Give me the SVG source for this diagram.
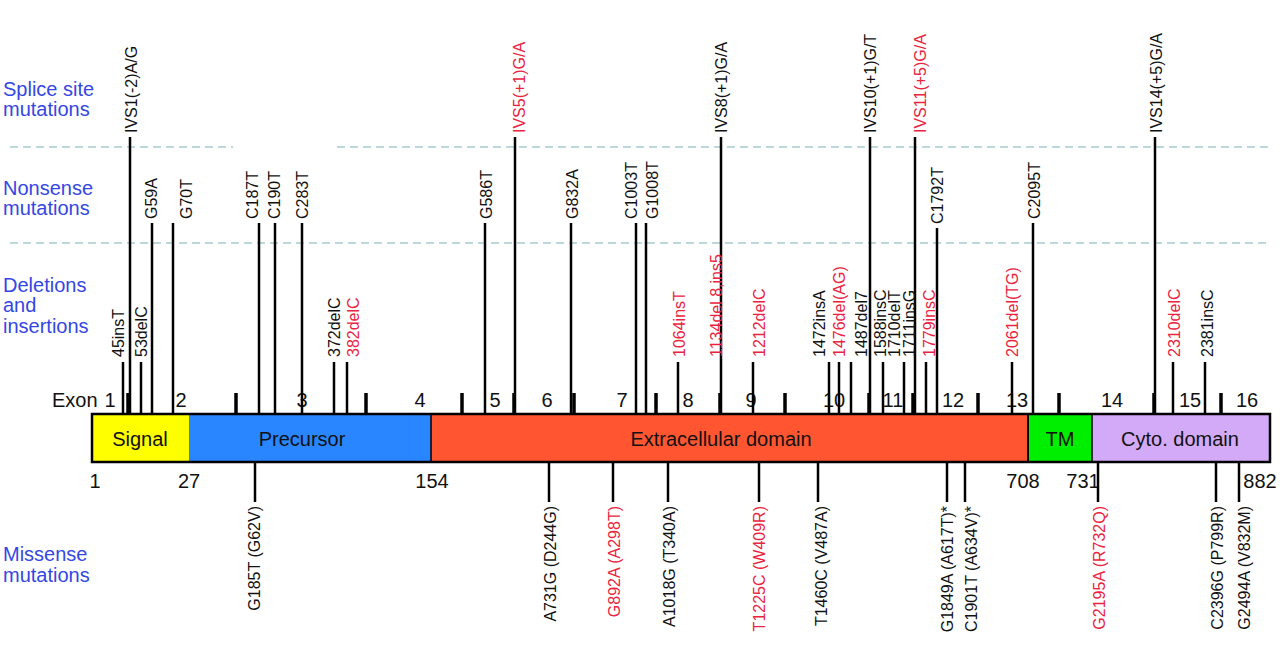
<svg xmlns="http://www.w3.org/2000/svg" width="1280" height="659" viewBox="0 0 1280 659">
<style>
text { font-family: "Liberation Sans", Arial, sans-serif; }
.lab { font-size: 16px; fill: #111; }
.red { fill: #ea2340; }
.bot { text-anchor: end; }
.cat { font-size: 20px; fill: #3447e4; }
.num { font-size: 20px; fill: #111; }
.mid { text-anchor: middle; }
.stem { stroke: #000; stroke-width: 2.5; }
.tick { stroke: #000; stroke-width: 3.5; }
.dash { stroke: #a6cccc; stroke-width: 1.5; stroke-dasharray: 8 5; fill: none; }
</style>
<rect width="1280" height="659" fill="#fff"/>

<g id="categories">
  <text class="cat" x="3" y="96">Splice site</text>
  <text class="cat" x="3" y="116">mutations</text>
  <text class="cat" x="3" y="195">Nonsense</text>
  <text class="cat" x="3" y="215">mutations</text>
  <text class="cat" x="3" y="292">Deletions</text>
  <text class="cat" x="3" y="312">and</text>
  <text class="cat" x="3" y="333">insertions</text>
  <text class="cat" x="3" y="561">Missense</text>
  <text class="cat" x="3" y="582">mutations</text>
</g>

<g id="separators">
  <line class="dash" x1="10" y1="147" x2="233" y2="147"/>
  <line class="dash" x1="337" y1="147" x2="1270" y2="147"/>
  <line class="dash" x1="10" y1="243" x2="1270" y2="243"/>
</g>

<g id="protein-bar">
  <rect x="92" y="414" width="97" height="48" fill="#ffff00"/>
  <rect x="189" y="414" width="242" height="48" fill="#2a86ff"/>
  <rect x="431" y="414" width="597" height="48" fill="#ff5631"/>
  <rect x="1028" y="414" width="64" height="48" fill="#00ee00"/>
  <rect x="1092" y="414" width="178" height="48" fill="#d3aaf8"/>
  <line x1="431" y1="414" x2="431" y2="462" stroke="#000" stroke-width="1.5"/>
  <line x1="1028" y1="414" x2="1028" y2="462" stroke="#000" stroke-width="2"/>
  <line x1="1092" y1="414" x2="1092" y2="462" stroke="#000" stroke-width="1.5"/>
  <rect x="92" y="414" width="1178" height="48" fill="none" stroke="#000" stroke-width="2.5"/>
  <text class="num mid" x="140" y="446">Signal</text>
  <text class="num mid" x="302" y="446">Precursor</text>
  <text class="num mid" x="721" y="446">Extracellular domain</text>
  <text class="num mid" x="1060" y="446">TM</text>
  <text class="num mid" x="1180" y="446">Cyto. domain</text>
</g>

<g id="positions">
  <text class="num mid" x="95" y="488">1</text>
  <text class="num mid" x="189" y="488">27</text>
  <text class="num mid" x="432" y="488">154</text>
  <text class="num mid" x="1023" y="488">708</text>
  <text class="num mid" x="1083" y="488">731</text>
  <text class="num mid" x="1260" y="488">882</text>
</g>

<g id="exons">
  <text class="num" x="52" y="407">Exon</text>
  <text class="num mid" x="110" y="407">1</text>
  <text class="num mid" x="181" y="407">2</text>
  <text class="num mid" x="302" y="407">3</text>
  <text class="num mid" x="420" y="407">4</text>
  <text class="num mid" x="495" y="407">5</text>
  <text class="num mid" x="547" y="407">6</text>
  <text class="num mid" x="622" y="407">7</text>
  <text class="num mid" x="688" y="407">8</text>
  <text class="num mid" x="751" y="407">9</text>
  <text class="num mid" x="834" y="407">10</text>
  <text class="num mid" x="893" y="407">11</text>
  <text class="num mid" x="953" y="407">12</text>
  <text class="num mid" x="1017" y="407">13</text>
  <text class="num mid" x="1112" y="407">14</text>
  <text class="num mid" x="1190" y="407">15</text>
  <text class="num mid" x="1247" y="407">16</text>
  <g id="exon-ticks">
    <line class="tick" x1="128" y1="393" x2="128" y2="414"/>
    <line class="tick" x1="236" y1="393" x2="236" y2="414"/>
    <line class="tick" x1="366" y1="393" x2="366" y2="414"/>
    <line class="tick" x1="462" y1="393" x2="462" y2="414"/>
    <line class="tick" x1="514" y1="393" x2="514" y2="414"/>
    <line class="tick" x1="574" y1="393" x2="574" y2="414"/>
    <line class="tick" x1="656" y1="393" x2="656" y2="414"/>
    <line class="tick" x1="720" y1="393" x2="720" y2="414"/>
    <line class="tick" x1="785" y1="393" x2="785" y2="414"/>
    <line class="tick" x1="869" y1="393" x2="869" y2="414"/>
    <line class="tick" x1="913" y1="393" x2="913" y2="414"/>
    <line class="tick" x1="978" y1="393" x2="978" y2="414"/>
    <line class="tick" x1="1059" y1="393" x2="1059" y2="414"/>
    <line class="tick" x1="1154" y1="393" x2="1154" y2="414"/>
    <line class="tick" x1="1221" y1="393" x2="1221" y2="414"/>
  </g>
</g>

<g id="connectors">
  <!-- splice site -->
  <line class="stem" x1="130" y1="137" x2="130" y2="414"/>
  <line class="stem" x1="515" y1="137" x2="515" y2="414"/>
  <line class="stem" x1="721" y1="137" x2="721" y2="414"/>
  <line class="stem" x1="870" y1="137" x2="870" y2="414"/>
  <line class="stem" x1="915" y1="137" x2="915" y2="414"/>
  <line class="stem" x1="1155" y1="137" x2="1155" y2="414"/>
  <!-- nonsense -->
  <line class="stem" x1="152" y1="223" x2="152" y2="414"/>
  <line class="stem" x1="173" y1="223" x2="173" y2="414"/>
  <line class="stem" x1="259" y1="223" x2="259" y2="414"/>
  <line class="stem" x1="275" y1="223" x2="275" y2="414"/>
  <line class="stem" x1="302" y1="223" x2="302" y2="414"/>
  <line class="stem" x1="485" y1="223" x2="485" y2="414"/>
  <line class="stem" x1="571" y1="223" x2="571" y2="414"/>
  <line class="stem" x1="636" y1="223" x2="636" y2="414"/>
  <line class="stem" x1="646" y1="223" x2="646" y2="414"/>
  <line class="stem" x1="937" y1="228" x2="937" y2="414"/>
  <line class="stem" x1="1033" y1="223" x2="1033" y2="414"/>
  <!-- deletions / insertions -->
  <line class="stem" x1="123" y1="362" x2="123" y2="414"/>
  <line class="stem" x1="141" y1="362" x2="141" y2="414"/>
  <line class="stem" x1="334" y1="362" x2="334" y2="414"/>
  <line class="stem" x1="347" y1="362" x2="347" y2="414"/>
  <line class="stem" x1="678" y1="362" x2="678" y2="414"/>
  <line class="stem" x1="753" y1="362" x2="753" y2="414"/>
  <line class="stem" x1="829" y1="362" x2="829" y2="414"/>
  <line class="stem" x1="839" y1="362" x2="839" y2="414"/>
  <line class="stem" x1="851" y1="362" x2="851" y2="414"/>
  <line class="stem" x1="883" y1="362" x2="883" y2="414"/>
  <line class="stem" x1="904" y1="362" x2="904" y2="414"/>
  <line class="stem" x1="926" y1="362" x2="926" y2="414"/>
  <line class="stem" x1="1012" y1="362" x2="1012" y2="414"/>
  <line class="stem" x1="1173" y1="362" x2="1173" y2="414"/>
  <line class="stem" x1="1205" y1="362" x2="1205" y2="414"/>
  <!-- missense -->
  <line class="stem" x1="255" y1="462" x2="255" y2="502"/>
  <line class="stem" x1="549" y1="462" x2="549" y2="502"/>
  <line class="stem" x1="613" y1="462" x2="613" y2="502"/>
  <line class="stem" x1="668" y1="462" x2="668" y2="502"/>
  <line class="stem" x1="759" y1="462" x2="759" y2="502"/>
  <line class="stem" x1="818" y1="462" x2="818" y2="502"/>
  <line class="stem" x1="947" y1="462" x2="947" y2="502"/>
  <line class="stem" x1="965" y1="462" x2="965" y2="502"/>
  <line class="stem" x1="1098" y1="462" x2="1098" y2="502"/>
  <line class="stem" x1="1216" y1="462" x2="1216" y2="502"/>
  <line class="stem" x1="1239" y1="462" x2="1239" y2="502"/>
</g>

<g id="splice-labels">
  <text class="lab" transform="translate(137,133) rotate(-90)">IVS1(-2)A/G</text>
  <text class="lab red" transform="translate(525,133) rotate(-90)">IVS5(+1)G/A</text>
  <text class="lab" transform="translate(727,133) rotate(-90)">IVS8(+1)G/A</text>
  <text class="lab" transform="translate(876,133) rotate(-90)">IVS10(+1)G/T</text>
  <text class="lab red" transform="translate(926,133) rotate(-90)">IVS11(+5)G/A</text>
  <text class="lab" transform="translate(1162,133) rotate(-90)">IVS14(+5)G/A</text>
</g>

<g id="nonsense-labels">
  <text class="lab" transform="translate(157,219) rotate(-90)">G59A</text>
  <text class="lab" transform="translate(192,219) rotate(-90)">G70T</text>
  <text class="lab" transform="translate(258,219) rotate(-90)">C187T</text>
  <text class="lab" transform="translate(280,219) rotate(-90)">C190T</text>
  <text class="lab" transform="translate(308,219) rotate(-90)">C283T</text>
  <text class="lab" transform="translate(492,219) rotate(-90)">G586T</text>
  <text class="lab" transform="translate(578,219) rotate(-90)">G832A</text>
  <text class="lab" transform="translate(637,219) rotate(-90)">C1003T</text>
  <text class="lab" transform="translate(658,219) rotate(-90)">G1008T</text>
  <text class="lab" transform="translate(943,224) rotate(-90)">C1792T</text>
  <text class="lab" transform="translate(1040,219) rotate(-90)">C2095T</text>
</g>

<g id="indel-labels">
  <text class="lab" transform="translate(124,357) rotate(-90)">45insT</text>
  <text class="lab" transform="translate(147,357) rotate(-90)">53delC</text>
  <text class="lab" transform="translate(340,357) rotate(-90)">372delC</text>
  <text class="lab red" transform="translate(359,357) rotate(-90)">382delC</text>
  <text class="lab red" transform="translate(685,357) rotate(-90)">1064insT</text>
  <text class="lab red" transform="translate(722,357) rotate(-90)">1134del 8,ins5</text>
  <text class="lab red" transform="translate(765,357) rotate(-90)">1212delC</text>
  <text class="lab" transform="translate(825,357) rotate(-90)">1472insA</text>
  <text class="lab red" transform="translate(845,357) rotate(-90)">1476del(AG)</text>
  <text class="lab" transform="translate(867,357) rotate(-90)">1487del7</text>
  <text class="lab" transform="translate(886,357) rotate(-90)">1588insC</text>
  <text class="lab" transform="translate(900,357) rotate(-90)">1710delT</text>
  <text class="lab" transform="translate(915,357) rotate(-90)">1711insG</text>
  <text class="lab red" transform="translate(935,357) rotate(-90)">1779insC</text>
  <text class="lab red" transform="translate(1018,357) rotate(-90)">2061del(TG)</text>
  <text class="lab red" transform="translate(1180,357) rotate(-90)">2310delC</text>
  <text class="lab" transform="translate(1213,357) rotate(-90)">2381insC</text>
</g>

<g id="missense-labels">
  <text class="lab bot" transform="translate(260,506) rotate(-90)">G185T (G62V)</text>
  <text class="lab bot" transform="translate(556,506) rotate(-90)">A731G (D244G)</text>
  <text class="lab red bot" transform="translate(620,506) rotate(-90)">G892A (A298T)</text>
  <text class="lab bot" transform="translate(675,506) rotate(-90)">A1018G (T340A)</text>
  <text class="lab red bot" transform="translate(765,506) rotate(-90)">T1225C (W409R)</text>
  <text class="lab bot" transform="translate(827,506) rotate(-90)">T1460C (V487A)</text>
  <text class="lab bot" transform="translate(953,506) rotate(-90)">G1849A (A617T)*</text>
  <text class="lab bot" transform="translate(977,506) rotate(-90)">C1901T (A634V)*</text>
  <text class="lab red bot" transform="translate(1105,506) rotate(-90)">G2195A (R732Q)</text>
  <text class="lab bot" transform="translate(1223,506) rotate(-90)">C2396G (P799R)</text>
  <text class="lab bot" transform="translate(1250,506) rotate(-90)">G2494A (V832M)</text>
</g>
</svg>
